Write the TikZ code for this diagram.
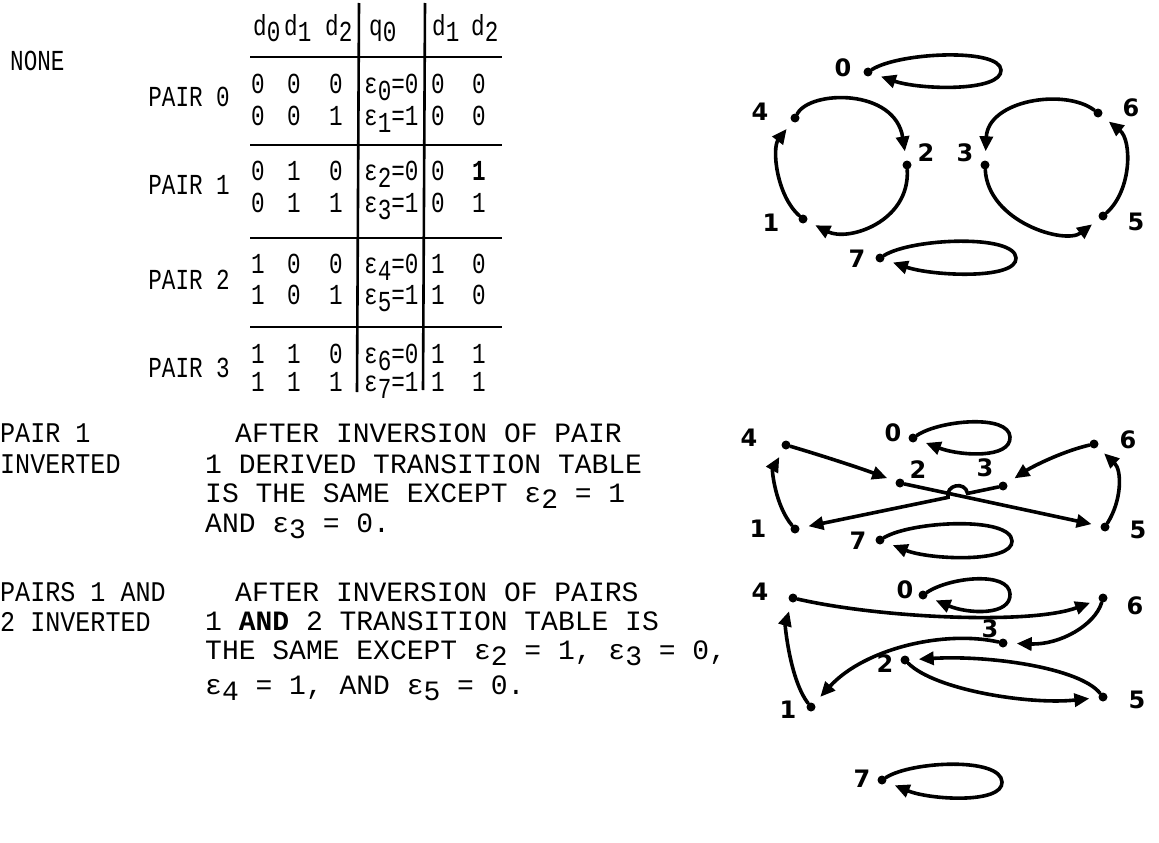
\documentclass[tikz,border=0pt]{standalone}
\usepackage{fontspec}
\usetikzlibrary{arrows.meta}
\newfontfamily\twfont{Liberation Mono}
\newfontfamily\lcfont[FakeStretch=0.88]{Liberation Mono}
\newfontfamily\tbfont[FakeStretch=0.78]{Liberation Mono}
\newfontfamily\labfont{DejaVu Sans}
\newcommand\hsub[1]{\raisebox{-0.2em}{#1}}
\newcommand\tsub[1]{\raisebox{-0.25em}{#1}}
\newcommand\esub[1]{ε\raisebox{-0.22em}{#1}}
\begin{document}
\begin{tikzpicture}[x=1pt,y=-1pt,
  tw/.style={font=\twfont\fontsize{28}{31}\selectfont, inner sep=0pt, anchor=base west},
  lc/.style={font=\lcfont\fontsize{28.5}{31}\selectfont, inner sep=0pt, anchor=base west},
  tb/.style={font=\tbfont\fontsize{29}{31}\selectfont, inner sep=0pt, anchor=base west},
  tbc/.style={font=\tbfont\fontsize{29}{31}\selectfont, inner sep=0pt, anchor=base},
  rule/.style={line width=2.6pt},
  dot/.style={circle, fill=black, inner sep=0pt, minimum size=9pt},
  glab/.style={font=\labfont\bfseries\fontsize{24}{24}\selectfont, inner sep=0pt},
  edge/.style={line width=3.6pt, line cap=round, -{Triangle[length=15pt,width=13pt]}, shorten >=9pt},
]
\fill[white] (0,0) rectangle (1159,843);
\useasboundingbox (0,0) rectangle (1159,843);

% ---------- table ----------
\node[tb] (none) at (10,70.5) {NONE};
\node[tb] (h1) at (253,36) {d\hsub{0}};
\node[tb] (h2) at (284,36) {d\hsub{1}};
\node[tb] (h3) at (325,36) {d\hsub{2}};
\node[tb] (h4) at (369,36) {q\hsub{0}};
\node[tb] (h5) at (432,36) {d\hsub{1}};
\node[tb] (h6) at (471,36) {d\hsub{2}};

\draw[rule] (250,57) -- (502,57);
\draw[rule] (250,145) -- (502,145);
\draw[rule] (250,238) -- (502,238);
\draw[rule] (250,327) -- (502,327);
\draw[rule] (359,3) -- (357,392);
\draw[rule] (425,3) -- (423,390);

\node[tb, anchor=base east] (p0) at (230,106.5) {PAIR 0};
\node[tb, anchor=base east] (p1) at (230,194.5) {PAIR 1};
\node[tb, anchor=base east] (p2) at (230,289.5) {PAIR 2};
\node[tb, anchor=base east] (p3) at (230,377.5) {PAIR 3};

\foreach \n/\yb/\a/\b/\c/\e/\f/\g in {0/93.5/0/0/0/0/0/0, 1/125.5/0/0/1/1/0/0, 2/180.5/0/1/0/0/0/{\textbf{1}}, 3/212.5/0/1/1/1/0/1, 4/273.5/1/0/0/0/1/0, 5/304.5/1/0/1/1/1/0, 6/363.5/1/1/0/0/1/1, 7/391.5/1/1/1/1/1/1}{
  \node[tbc] (r\n-a) at (258,\yb) {\a};
  \node[tbc] (r\n-b) at (294,\yb) {\b};
  \node[tbc] (r\n-c) at (336,\yb) {\c};
  \node[tb]  (r\n-e) at (364,\yb) {ε\tsub{\n}=\e};
  \node[tbc] (r\n-f) at (438,\yb) {\f};
  \node[tbc] (r\n-g) at (479,\yb) {\g};
}

% ---------- lower texts ----------
\node[lc] (l1) at (0,442.5) {PAIR 1};
\node[lc] (l2) at (0,473.5) {INVERTED};
\node[tw] (a1) at (235,442.5) {AFTER INVERSION OF PAIR};
\node[tw] (a2) at (205,473.5) {1 DERIVED TRANSITION TABLE};
\node[tw] (a3) at (205,502.5) {IS THE SAME EXCEPT \esub{2} = 1};
\node[tw] (a4) at (205,532) {AND \esub{3} = 0.};
\node[lc] (l3) at (0,601.5) {PAIRS 1 AND};
\node[lc] (l4) at (0,631.5) {2 INVERTED};
\node[tw] (b1t) at (235,601.5) {AFTER INVERSION OF PAIRS};
\node[tw] (b2t) at (205,630.5) {1 \textbf{AND} 2 TRANSITION TABLE IS};
\node[tw] (b3t) at (205,659.5) {THE SAME EXCEPT \esub{2} = 1, \esub{3} = 0,};
\node[tw] (b4t) at (205,694) {\esub{4} = 1, AND \esub{5} = 0.};

% ---------- top graph ----------
\node[dot] (t0) at (868,72) {};
\node[dot] (t4) at (795,118) {};
\node[dot] (t2) at (907,165) {};
\node[dot] (t1) at (803,219) {};
\node[dot] (t3) at (985,165) {};
\node[dot] (t6) at (1098,113) {};
\node[dot] (t5) at (1103,216) {};
\node[dot] (t7) at (880,258) {};
\node[glab] (lt0) at (843,68) {0};
\node[glab] (lt4) at (760,112) {4};
\node[glab] (lt2) at (926,153) {2};
\node[glab] (lt3) at (965,153) {3};
\node[glab] (lt6) at (1131,108) {6};
\node[glab] (lt1) at (771,223) {1};
\node[glab] (lt5) at (1136,222) {5};
\node[glab] (lt7) at (857,259) {7};
\draw[edge] (t4) .. controls (810,90) and (895,88) .. (t2);
\draw[edge] (t2) .. controls (910,222) and (848,242) .. (t1);
\draw[edge] (t1) .. controls (776,195) and (772,148) .. (t4);
\draw[edge] (t6) .. controls (1065,88) and (988,100) .. (t3);
\draw[edge] (t3) .. controls (988,222) and (1065,245) .. (t5);
\draw[edge] (t5) .. controls (1132,190) and (1132,140) .. (t6);
\draw[edge] (t0) .. controls (900,52) and (1000,48) .. (1001,70) .. controls (1002,92) and (920,90) .. (t0);
\draw[edge] (t7) .. controls (912,238) and (1015,234) .. (1016,258) .. controls (1017,280) and (932,276) .. (t7);

% ---------- middle graph ----------
\node[dot] (m4) at (786,445) {};
\node[dot] (m0) at (913,438) {};
\node[dot] (m2) at (900,483) {};
\node[dot] (m3) at (1003,486) {};
\node[dot] (m6) at (1094,444) {};
\node[dot] (m1) at (795,529) {};
\node[dot] (m5) at (1105,527) {};
\node[dot] (m7) at (880,540) {};
\node[glab] (lm4) at (749,438) {4};
\node[glab] (lm0) at (893,433) {0};
\node[glab] (lm2) at (918,470) {2};
\node[glab] (lm3) at (985,468) {3};
\node[glab] (lm6) at (1128,440) {6};
\node[glab] (lm1) at (758,529) {1};
\node[glab] (lm7) at (858,541) {7};
\node[glab] (lm5) at (1138,530) {5};
\draw[edge] (m4) .. controls (820,455) and (860,468) .. (m2);
\draw[edge] (m6) .. controls (1060,452) and (1030,468) .. (m3);
\draw[edge] (m1) .. controls (775,505) and (772,470) .. (m4);
\draw[edge] (m5) .. controls (1122,500) and (1122,470) .. (m6);
\draw[edge] (m2) -- (m5);
\coordinate (hopa) at (967.6,493.4);
\coordinate (hopb) at (948.0,497.4);
\draw[edge] (m3) -- (hopa) .. controls (965.0,480.7) and (945.4,484.7) .. (hopb) -- (m1);
\draw[edge] (m0) .. controls (940,420) and (1009,414) .. (1010,437) .. controls (1011,459) and (960,456) .. (m0);
\draw[edge] (m7) .. controls (912,521) and (1011,516) .. (1012,541) .. controls (1013,563) and (930,560) .. (m7);

% ---------- bottom graph ----------
\node[dot] (b4) at (793,598) {};
\node[dot] (b0) at (923,595) {};
\node[dot] (b6) at (1103,598) {};
\node[dot] (b3) at (1003,643) {};
\node[dot] (b2) at (905,660) {};
\node[dot] (b1) at (811,707) {};
\node[dot] (b5) at (1103,697) {};
\node[dot] (b7) at (882,780) {};
\node[glab] (lb4) at (760,592) {4};
\node[glab] (lb0) at (905,590) {0};
\node[glab] (lb6) at (1135,606) {6};
\node[glab] (lb3) at (990,629) {3};
\node[glab] (lb2) at (885,664) {2};
\node[glab] (lb1) at (788,710) {1};
\node[glab] (lb5) at (1137,700) {5};
\node[glab] (lb7) at (862,779) {7};
\draw[edge] (b4) .. controls (880,618) and (1030,625) .. (b6);
\draw[edge] (b6) .. controls (1095,625) and (1060,645) .. (b3);
\draw[edge] (b3) .. controls (945,630) and (865,648) .. (b1);
\draw[edge] (b5) .. controls (1080,668) and (990,655) .. (b2);
\draw[edge] (b2) .. controls (935,690) and (1030,705) .. (b5);
\draw[edge] (b1) .. controls (790,680) and (785,625) .. (b4);
\draw[edge] (b0) .. controls (950,577) and (1009,571) .. (1010,594) .. controls (1011,616) and (968,614) .. (b0);
\draw[edge] (b7) .. controls (912,761) and (1001,757) .. (1002,782) .. controls (1003,804) and (930,800) .. (b7);
\end{tikzpicture}
\end{document}
